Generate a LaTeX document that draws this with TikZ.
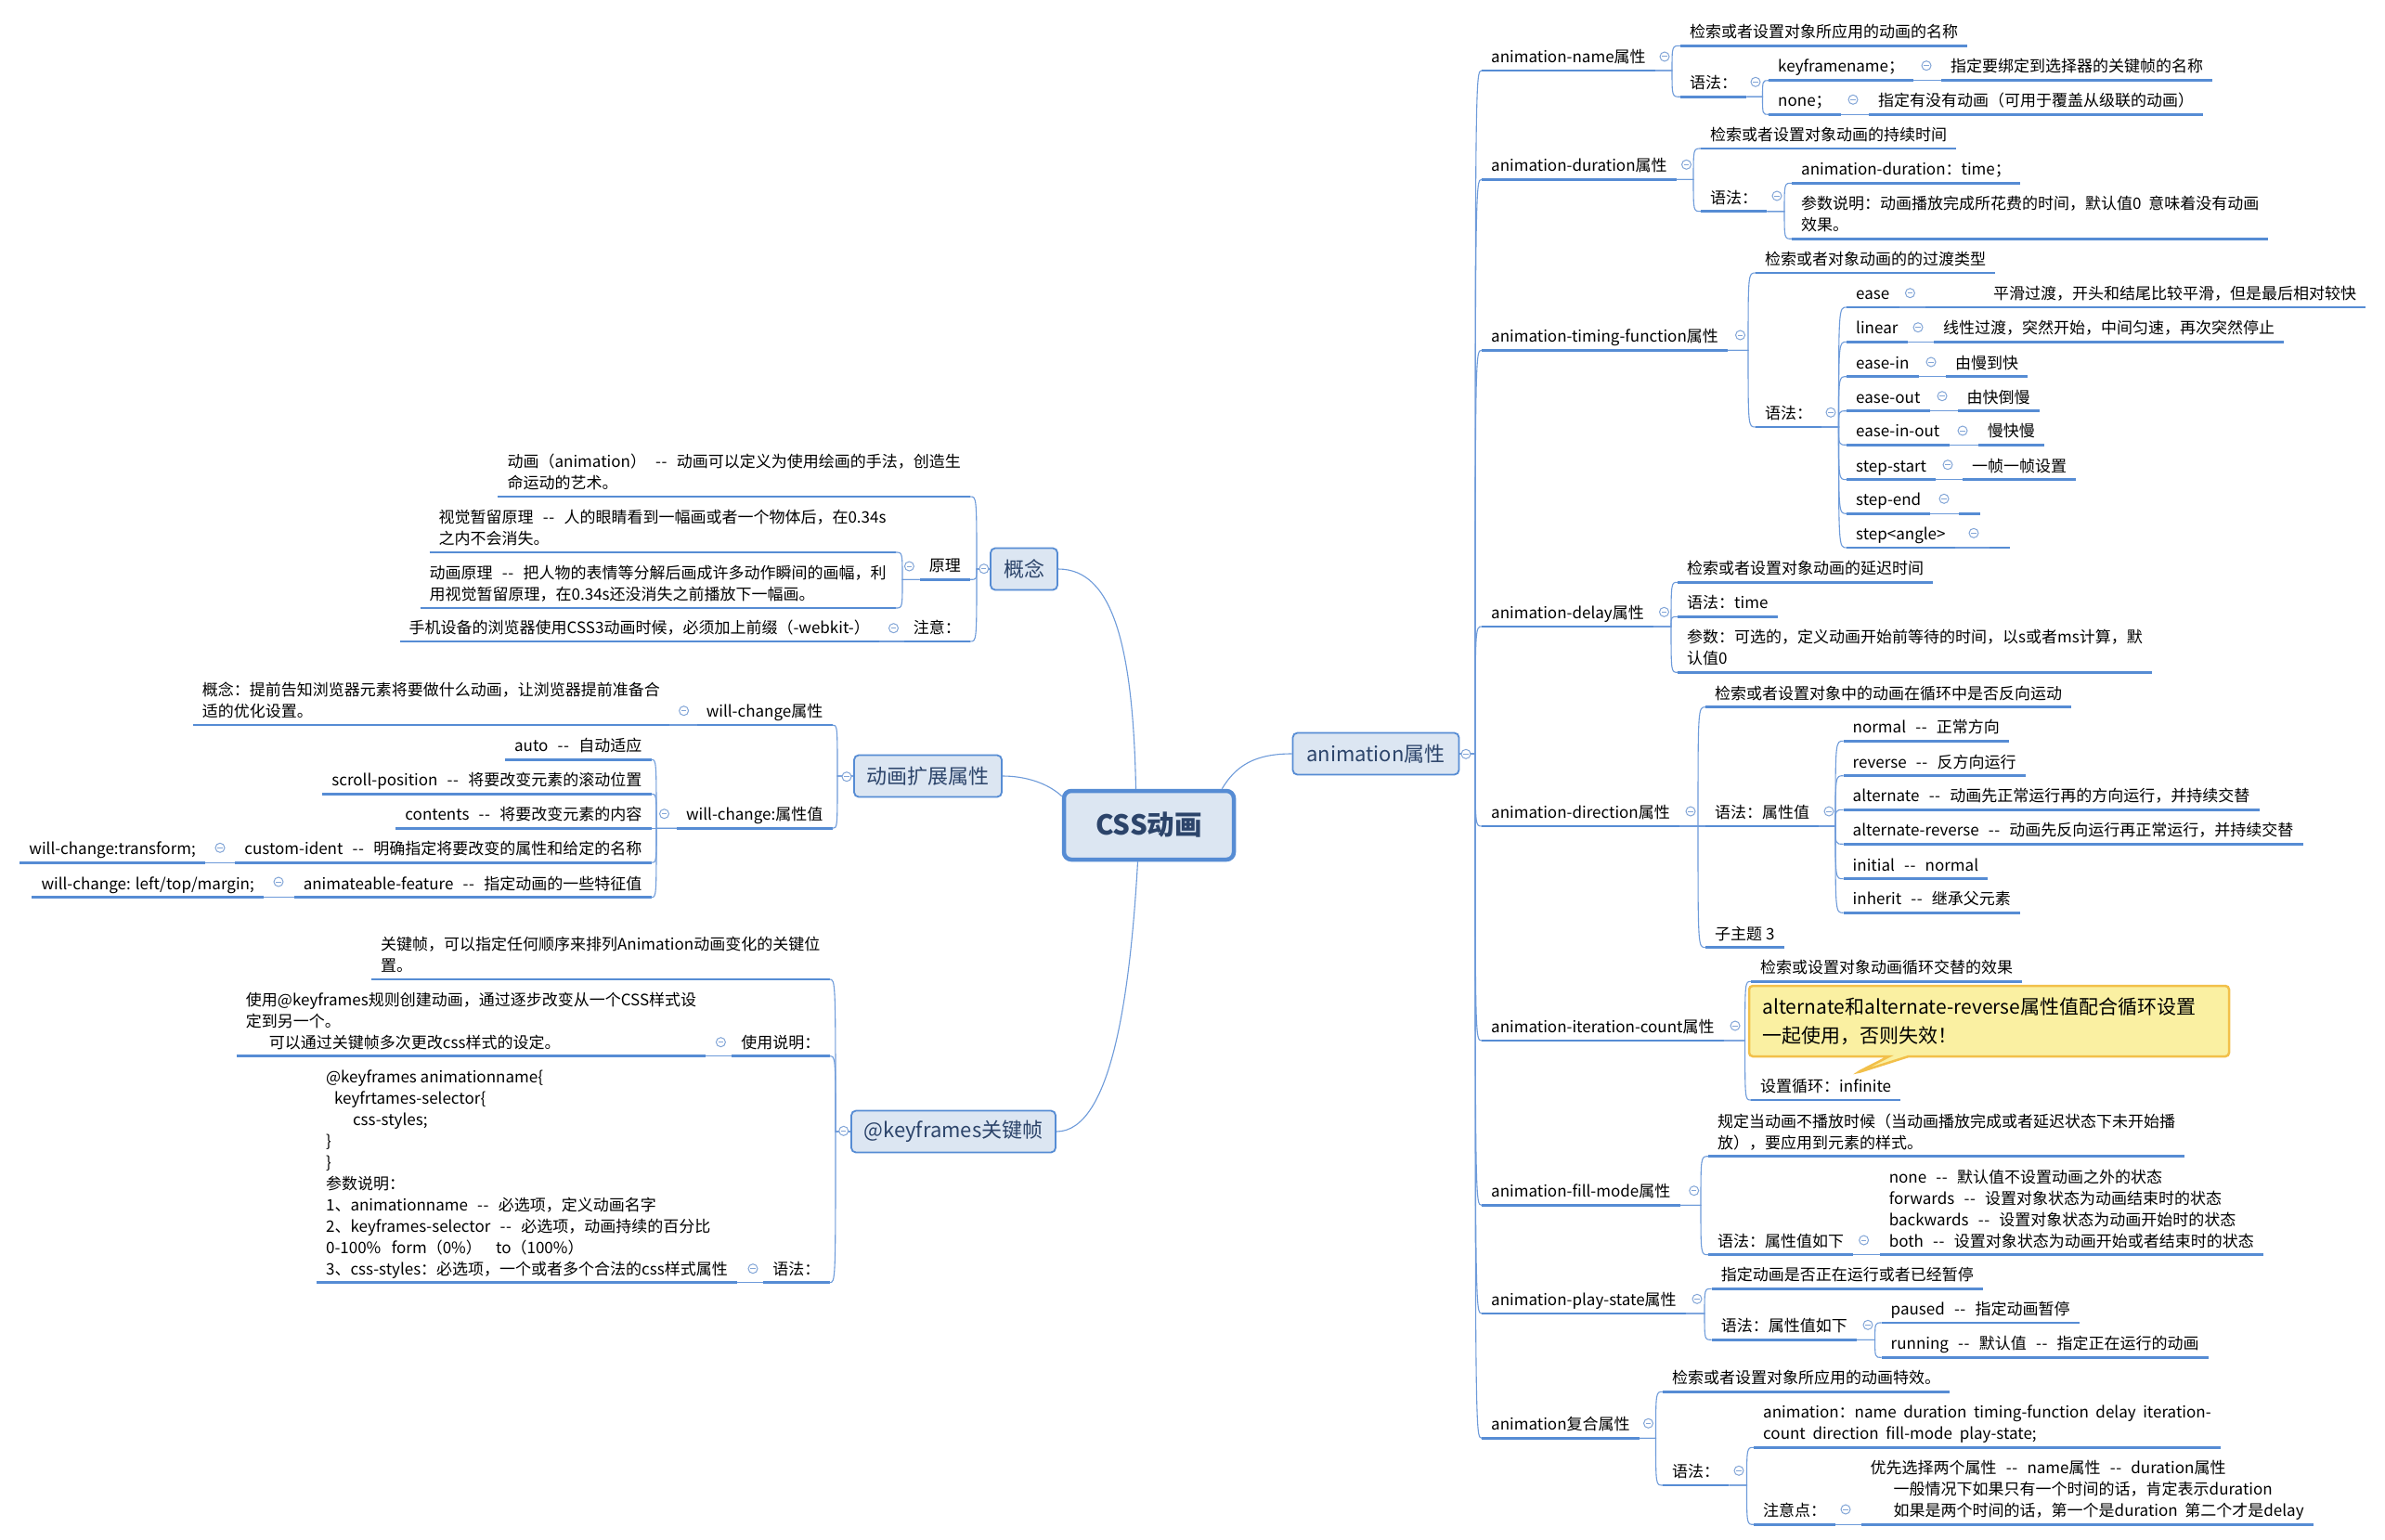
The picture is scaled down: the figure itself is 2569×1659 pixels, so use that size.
\documentclass[tikz,border=0pt]{standalone}
\usepackage{fontspec}
\setmainfont{Noto Sans CJK SC}
\usetikzlibrary{shapes.callouts}
\definecolor{ulblue}{RGB}{86,140,212}
\definecolor{lnblue}{RGB}{110,155,218}
\definecolor{fdblue}{RGB}{130,165,215}
\definecolor{boxfill}{RGB}{220,230,242}
\definecolor{boxtext}{RGB}{44,68,106}
\definecolor{notefill}{RGB}{250,240,162}
\definecolor{noteline}{RGB}{242,192,74}
\def \dsh {\hspace{.6em}-\kern.6pt-\hspace{.6em}}
\def \linkR#1#2#3{\draw[conn] (#2) -- (#1 |- #2) .. controls (#1 |- #3.south west) .. (#3.south west);}
\def \linkL#1#2#3{\draw[conn] (#2) -- (#1 |- #2) .. controls (#1 |- #3.south east) .. (#3.south east);}
\tikzset{
  uline/.style={draw=ulblue, line width=2.8pt},
  topic/.style={font=\fontsize{17}{23}\selectfont, inner xsep=10pt, inner ysep=5.5pt, text depth=3pt, align=left,
    append after command={(\tikzlastnode.south west) edge[uline] (\tikzlastnode.south east)}},
  topicR/.style={topic, anchor=south west},
  topicL/.style={topic, anchor=south east},
  conn/.style={draw=lnblue, line width=1.1pt},
  fold/.style={circle, draw=fdblue, fill=white, line width=1pt, minimum size=10pt, inner sep=0pt,
    path picture={\draw[fdblue, line width=1pt] ([xshift=-2.6pt]path picture bounding box.center) -- ([xshift=2.6pt]path picture bounding box.center);}},
  mainbox/.style={draw=ulblue, fill=boxfill, line width=1.8pt, rounded corners=5pt, text=boxtext,
    font=\fontsize{22}{26}\selectfont, minimum height=45pt, inner sep=0pt},
  rootbox/.style={mainbox, line width=4.5pt, rounded corners=8pt, font=\fontsize{29.5}{34}\selectfont\bfseries,
    minimum width=183pt, minimum height=74pt},
  note/.style={rectangle callout, draw=noteline, fill=notefill, line width=2.5pt, rounded corners=4pt,
    font=\fontsize{21}{30.7}\selectfont, align=left, text width=488pt, inner xsep=14.5pt, minimum height=76pt,
    callout pointer width=21pt},
}
\begin{document}
\begin{tikzpicture}[x=1pt, y=-1pt]
  \path[use as bounding box, fill=white] (0,0) rectangle (2569,1659);

  % Centre topic
  \node[rootbox] (root) at (1237.5,889) {CSS动画};

  % Main topics
  \node[mainbox, minimum width=179pt] (anim) at (1482,812) {animation属性};
  \node[mainbox, minimum width=72pt] (concept) at (1103,613) {概念};
  \node[mainbox, minimum width=159pt] (ext) at (999.5,836) {动画扩展属性};
  \node[mainbox, minimum width=220pt] (kfbox) at (1027,1219) {@keyframes关键帧};

  \draw[conn] ([xshift=-15pt]root.north east) .. controls +(15,-25) and +(-40,0) .. (anim.west);
  \draw[conn] ([xshift=-14pt]root.north) .. controls +(-3,-150) and +(60,0) .. (concept.east);
  \draw[conn] ([yshift=-8pt]root.north west) .. controls +(-15,-14) and +(25,0) .. (ext.east);
  \draw[conn] ([xshift=-12pt]root.south) .. controls +(-8,140) and +(60,0) .. (kfbox.east);

  % ---------------- right: animation属性 ----------------
  \node[topicR] (n1) at (1596,76) {animation-name属性};
  \node[topicR] (n2) at (1596,193.3) {animation-duration属性};
  \node[topicR] (n3) at (1596,377.3) {animation-timing-function属性};
  \node[topicR] (n4) at (1596,675) {animation-delay属性};
  \node[topicR] (n5) at (1596,890) {animation-direction属性};
  \node[topicR] (n6) at (1596,1121) {animation-iteration-count属性};
  \node[topicR] (n7) at (1596,1298.3) {animation-fill-mode属性};
  \node[topicR] (n8) at (1596,1415) {animation-play-state属性};
  \node[topicR] (n9) at (1596,1549.3) {animation复合属性};
  \coordinate (anim-sp) at (1589,0);
  \linkR{anim-sp}{anim.east}{n1}
  \linkR{anim-sp}{anim.east}{n2}
  \linkR{anim-sp}{anim.east}{n3}
  \linkR{anim-sp}{anim.east}{n4}
  \linkR{anim-sp}{anim.east}{n5}
  \linkR{anim-sp}{anim.east}{n6}
  \linkR{anim-sp}{anim.east}{n7}
  \linkR{anim-sp}{anim.east}{n8}
  \linkR{anim-sp}{anim.east}{n9}
  \node[fold] (f-anim) at (1579,812.3) {};

  % animation-name
  \node[topicR] (n1a) at (1810,49.3) {检索或者设置对象所应用的动画的名称};
  \node[topicR] (n1b) at (1810,104.3) {语法：};
  \node[topicR] (n1b1) at (1905,86.7) {keyframename；};
  \node[topicR] (n1b1a) at (2091,86.7) {指定要绑定到选择器的关键帧的名称};
  \node[topicR] (n1b2) at (1905,123.3) {none；};
  \node[topicR] (n1b2a) at (2013,123.3) {指定有没有动画（可用于覆盖从级联的动画）};
  \coordinate (n1-sp) at (1801,0);
  \coordinate (n1b-sp) at (1898.5,0);
  \linkR{n1-sp}{n1.south east}{n1a}
  \linkR{n1-sp}{n1.south east}{n1b}
  \linkR{n1b-sp}{n1b.south east}{n1b1}
  \linkR{n1b-sp}{n1b.south east}{n1b2}
  \draw[conn] (n1b1.south east) -- (n1b1a.south west);
  \draw[conn] (n1b2.south east) -- (n1b2a.south west);
  \node[fold] (f-n1) at (1793,61) {};
  \node[fold] (f-n1b) at (1891,88.3) {};
  \node[fold] (f-n1b1) at (2075,70.7) {};
  \node[fold] (f-n1b2) at (1996,107.3) {};

  % animation-duration
  \node[topicR] (n2a) at (1832,160) {检索或者设置对象动画的持续时间};
  \node[topicR] (n2b) at (1832,227.7) {语法：};
  \node[topicR] (n2b1) at (1930,197.3) {animation-duration：time；};
  \node[topicR] (n2b2) at (1930,257.3) {参数说明：动画播放完成所花费的时间，默认值0\ \ 意味着没有动画\\效果。};
  \coordinate (n2-sp) at (1824,0);
  \coordinate (n2b-sp) at (1922,0);
  \linkR{n2-sp}{n2.south east}{n2a}
  \linkR{n2-sp}{n2.south east}{n2b}
  \linkR{n2b-sp}{n2b.south east}{n2b1}
  \linkR{n2b-sp}{n2b.south east}{n2b2}
  \node[fold] (f-n2) at (1816.5,177.3) {};
  \node[fold] (f-n2b) at (1914,211) {};

  % animation-timing-function
  \node[topicR] (n3a) at (1891,294) {检索或者对象动画的的过渡类型};
  \node[topicR] (n3b) at (1891,460) {语法：};
  \node[topicR] (t1) at (1989,331) {ease};
  \node[topicR] (t1a) at (2074,331) {\hspace*{63pt}平滑过渡，开头和结尾比较平滑，但是最后相对较快};
  \node[topicR] (t2) at (1989,368.3) {linear};
  \node[topicR] (t2a) at (2083,368.3) {线性过渡，突然开始，中间匀速，再次突然停止};
  \node[topicR] (t3) at (1989,405.7) {ease-in};
  \node[topicR] (t3a) at (2096,405.7) {由慢到快};
  \node[topicR] (t4) at (1989,442.7) {ease-out};
  \node[topicR] (t4a) at (2108.5,442.7) {由快倒慢};
  \node[topicR] (t5) at (1989,479.3) {ease-in-out};
  \node[topicR] (t5a) at (2130.6,479.3) {慢快慢};
  \node[topicR] (t6) at (1989,516.7) {step-start};
  \node[topicR] (t6a) at (2114,516.7) {一帧一帧设置};
  \node[topicR] (t7) at (1989,553.3) {step-end};
  \node[topicR, minimum width=22.5pt] (t7a) at (2110,553.3) {};
  \node[topicR] (t8) at (1989,590) {step<angle>};
  \node[topicR, minimum width=22pt] (t8a) at (2143,590) {};
  \coordinate (n3-sp) at (1883,0);
  \coordinate (n3b-sp) at (1980.5,0);
  \linkR{n3-sp}{n3.south east}{n3a}
  \linkR{n3-sp}{n3.south east}{n3b}
  \linkR{n3b-sp}{n3b.south east}{t1}
  \linkR{n3b-sp}{n3b.south east}{t2}
  \linkR{n3b-sp}{n3b.south east}{t3}
  \linkR{n3b-sp}{n3b.south east}{t4}
  \linkR{n3b-sp}{n3b.south east}{t5}
  \linkR{n3b-sp}{n3b.south east}{t6}
  \linkR{n3b-sp}{n3b.south east}{t7}
  \linkR{n3b-sp}{n3b.south east}{t8}
  \draw[conn] (t1.south east) -- (t1a.south west);
  \draw[conn] (t2.south east) -- (t2a.south west);
  \draw[conn] (t3.south east) -- (t3a.south west);
  \draw[conn] (t4.south east) -- (t4a.south west);
  \draw[conn] (t5.south east) -- (t5a.south west);
  \draw[conn] (t6.south east) -- (t6a.south west);
  \draw[conn] (t7.south east) -- (t7a.south west);
  \draw[conn] (t8.south east) -- (t8a.south west);
  \node[fold] (f-n3) at (1874.5,361) {};
  \node[fold] (f-n3b) at (1972,444.3) {};
  \node[fold] (f-t1) at (2057.4,315.7) {};
  \node[fold] (f-t2) at (2066,352.7) {};
  \node[fold] (f-t3) at (2080,390) {};
  \node[fold] (f-t4) at (2092,426.7) {};
  \node[fold] (f-t5) at (2114,464) {};
  \node[fold] (f-t6) at (2098,500.7) {};
  \node[fold] (f-t7) at (2094,537.3) {};
  \node[fold] (f-t8) at (2126,574.3) {};

  % animation-delay
  \node[topicR] (n4a) at (1807,627.3) {检索或者设置对象动画的延迟时间};
  \node[topicR] (n4b) at (1807,664.3) {语法：time};
  \node[topicR] (n4c) at (1807,724.3) {参数：可选的，定义动画开始前等待的时间，以s或者ms计算，默\\认值0};
  \coordinate (n4-sp) at (1800,0);
  \linkR{n4-sp}{n4.south east}{n4a}
  \linkR{n4-sp}{n4.south east}{n4b}
  \linkR{n4-sp}{n4.south east}{n4c}
  \node[fold] (f-n4) at (1792.5,659.3) {};

  % animation-direction
  \node[topicR] (n5a) at (1837,761.7) {检索或者设置对象中的动画在循环中是否反向运动};
  \node[topicR] (n5b) at (1837,890) {语法：属性值};
  \node[topicR] (d1) at (1985.5,798.3) {normal\dsh 正常方向};
  \node[topicR] (d2) at (1985.5,835.7) {reverse\dsh 反方向运行};
  \node[topicR] (d3) at (1985.5,872.3) {alternate\dsh 动画先正常运行再的方向运行，并持续交替};
  \node[topicR] (d4) at (1985.5,909.3) {alternate-reverse\dsh 动画先反向运行再正常运行，并持续交替};
  \node[topicR] (d5) at (1985.5,946.7) {initial\dsh normal};
  \node[topicR] (d6) at (1985.5,983.3) {inherit\dsh 继承父元素};
  \node[topicR] (n5c) at (1837,1020.7) {子主题 3};
  \coordinate (n5-sp) at (1829,0);
  \coordinate (n5b-sp) at (1977,0);
  \linkR{n5-sp}{n5.south east}{n5a}
  \linkR{n5-sp}{n5.south east}{n5b}
  \linkR{n5-sp}{n5.south east}{n5c}
  \linkR{n5b-sp}{n5b.south east}{d1}
  \linkR{n5b-sp}{n5b.south east}{d2}
  \linkR{n5b-sp}{n5b.south east}{d3}
  \linkR{n5b-sp}{n5b.south east}{d4}
  \linkR{n5b-sp}{n5b.south east}{d5}
  \linkR{n5b-sp}{n5b.south east}{d6}
  \node[fold] (f-n5) at (1821,874) {};
  \node[fold] (f-n5b) at (1970,874) {};

  % animation-iteration-count
  \node[topicR] (n6a) at (1886,1057.3) {检索或设置对象动画循环交替的效果};
  \node[topicR] (n6b) at (1886,1185) {设置循环：infinite};
  \coordinate (n6-sp) at (1879.6,0);
  \linkR{n6-sp}{n6.south east}{n6a}
  \linkR{n6-sp}{n6.south east}{n6b}
  \node[note, minimum width=517pt, callout absolute pointer={(2000,1155.7)}] (n6note) at (2142.5,1100)
    {alternate和alternate-reverse属性值配合循环设置\\一起使用，否则失效！};
  \node[fold] (f-n6) at (1869,1105) {};

  % animation-fill-mode
  \node[topicR] (n7a) at (1840,1245.7) {规定当动画不播放时候（当动画播放完成或者延迟状态下未开始播\\放），要应用到元素的样式。};
  \node[topicR] (n7b) at (1840,1351.7) {语法：属性值如下};
  \node[topicR] (n7b1) at (2024.6,1351.7) {none\dsh 默认值不设置动画之外的状态\\forwards\dsh 设置对象状态为动画结束时的状态\\backwards\dsh 设置对象状态为动画开始时的状态\\both\dsh 设置对象状态为动画开始或者结束时的状态};
  \coordinate (n7-sp) at (1832,0);
  \linkR{n7-sp}{n7.south east}{n7a}
  \linkR{n7-sp}{n7.south east}{n7b}
  \draw[conn] (n7b.south east) -- (n7b1.south west);
  \node[fold] (f-n7) at (1824.7,1282.7) {};
  \node[fold] (f-n7b) at (2007.6,1336) {};

  % animation-play-state
  \node[topicR] (n8a) at (1843.6,1388.3) {指定动画是否正在运行或者已经暂停};
  \node[topicR] (n8b) at (1843.6,1443.3) {语法：属性值如下};
  \node[topicR] (p1) at (2026.5,1425) {paused\dsh 指定动画暂停};
  \node[topicR] (p2) at (2026.5,1462.3) {running\dsh 默认值\dsh 指定正在运行的动画};
  \coordinate (n8-sp) at (1836,0);
  \coordinate (n8b-sp) at (2019.6,0);
  \linkR{n8-sp}{n8.south east}{n8a}
  \linkR{n8-sp}{n8.south east}{n8b}
  \linkR{n8b-sp}{n8b.south east}{p1}
  \linkR{n8b-sp}{n8b.south east}{p2}
  \node[fold] (f-n8) at (1828,1399.3) {};
  \node[fold] (f-n8b) at (2012,1427.3) {};

  % animation复合属性
  \node[topicR] (n9a) at (1791,1499.3) {检索或者设置对象所应用的动画特效。};
  \node[topicR] (n9b) at (1791,1600) {语法：};
  \node[topicR] (c1) at (1889,1559.3) {animation：name\ \ duration\ \ timing-function\ \ delay\ \ iteration-\\count\ \ direction\ \ fill-mode\ \ play-state;};
  \node[topicR] (c2) at (1889,1642.3) {注意点：};
  \node[topicR] (c2a) at (2004.5,1642.3) {优先选择两个属性\dsh name属性\dsh duration属性\\\hspace*{25pt}一般情况下如果只有一个时间的话，肯定表示duration\\\hspace*{25pt}如果是两个时间的话，第一个是duration\ \ 第二个才是delay};
  \coordinate (n9-sp) at (1783.5,0);
  \coordinate (n9b-sp) at (1881.5,0);
  \linkR{n9-sp}{n9.south east}{n9a}
  \linkR{n9-sp}{n9.south east}{n9b}
  \linkR{n9b-sp}{n9b.south east}{c1}
  \linkR{n9b-sp}{n9b.south east}{c2}
  \draw[conn] (c2.south east) -- (c2a.south west);
  \node[fold] (f-n9) at (1775.5,1533.3) {};
  \node[fold] (f-n9b) at (1873,1584.3) {};
  \node[fold] (f-c2) at (1988,1626) {};

  % ---------------- left: 概念 ----------------
  \node[topicL] (k1) at (1045,535) {动画（animation）\dsh 动画可以定义为使用绘画的手法，创造生\\命运动的艺术。};
  \node[topicL] (k2) at (1045,624.3) {原理};
  \node[topicL] (k2a) at (964.7,595) {视觉暂留原理\dsh 人的眼睛看到一幅画或者一个物体后，在0.34s\\之内不会消失。};
  \node[topicL] (k2b) at (964.7,655) {动画原理\dsh 把人物的表情等分解后画成许多动作瞬间的画幅，利\\用视觉暂留原理，在0.34s还没消失之前播放下一幅画。};
  \node[topicL] (k3) at (1045,691) {注意：};
  \node[topicL] (k3a) at (947,691) {手机设备的浏览器使用CSS3动画时候，必须加上前缀（-webkit-）};
  \coordinate (concept-sp) at (1052,0);
  \coordinate (k2-sp) at (972,0);
  \linkL{concept-sp}{concept.west}{k1}
  \linkL{concept-sp}{concept.west}{k2}
  \linkL{concept-sp}{concept.west}{k3}
  \linkL{k2-sp}{k2.south west}{k2a}
  \linkL{k2-sp}{k2.south west}{k2b}
  \draw[conn] (k3.south west) -- (k3a.south east);
  \node[fold] (f-concept) at (1059.8,612.7) {};
  \node[fold] (f-k2) at (979.4,610) {};
  \node[fold] (f-k3) at (962.5,676.7) {};

  % ---------------- left: 动画扩展属性 ----------------
  \node[topicL] (e1) at (896.5,781) {will-change属性};
  \node[topicL] (e1a) at (721,781) {概念：提前告知浏览器元素将要做什么动画，让浏览器提前准备合\\适的优化设置。};
  \node[topicL] (e2) at (896.5,892.3) {will-change:属性值};
  \node[topicL] (e2a) at (701.5,818.3) {auto\dsh 自动适应};
  \node[topicL] (e2b) at (701.5,855.3) {scroll-position\dsh 将要改变元素的滚动位置};
  \node[topicL] (e2c) at (701.5,892.3) {contents\dsh 将要改变元素的内容};
  \node[topicL] (e2d) at (701.5,929.3) {custom-ident\dsh 明确指定将要改变的属性和给定的名称};
  \node[topicL] (e2d1) at (221,929.3) {will-change:transform;};
  \node[topicL] (e2e) at (701.5,966.7) {animateable-feature\dsh 指定动画的一些特征值};
  \node[topicL] (e2e1) at (284,966.7) {will-change: left/top/margin;};
  \coordinate (ext-sp) at (902,0);
  \coordinate (e2-sp) at (707,0);
  \linkL{ext-sp}{ext.west}{e1}
  \linkL{ext-sp}{ext.west}{e2}
  \draw[conn] (e1.south west) -- (e1a.south east);
  \linkL{e2-sp}{e2.south west}{e2a}
  \linkL{e2-sp}{e2.south west}{e2b}
  \linkL{e2-sp}{e2.south west}{e2c}
  \linkL{e2-sp}{e2.south west}{e2d}
  \linkL{e2-sp}{e2.south west}{e2e}
  \draw[conn] (e2d.south west) -- (e2d1.south east);
  \draw[conn] (e2e.south west) -- (e2e1.south east);
  \node[fold] (f-ext) at (912,836.7) {};
  \node[fold] (f-e1) at (736.6,765.7) {};
  \node[fold] (f-e2) at (715.5,876.7) {};
  \node[fold] (f-e2d) at (237,913.3) {};
  \node[fold] (f-e2e) at (300,950) {};

  % ---------------- left: @keyframes关键帧 ----------------
  \node[topicL] (kf1) at (893.5,1055) {关键帧，可以指定任何顺序来排列Animation动画变化的关键位\\置。};
  \node[topicL] (kf2) at (893.5,1137.7) {使用说明：};
  \node[topicL] (kf2a) at (760.4,1137.7) {使用@keyframes规则创建动画，通过逐步改变从一个CSS样式设\\定到另一个。\\\hspace*{25pt}可以通过关键帧多次更改css样式的设定。};
  \node[topicL] (kf3) at (893.5,1381.7) {语法：};
  \node[topicL] (kf3a) at (794,1381.7) {@keyframes animationname\{\\\hspace*{9pt}keyfrtames-selector\{\\\hspace*{29pt}css-styles;\\\}\\\}\\参数说明：\\1、animationname\dsh 必选项，定义动画名字\\2、keyframes-selector\dsh 必选项，动画持续的百分比\\0-100\%\ \ \ form（0\%）\ \ \ \ to（100\%）\\3、css-styles：必选项，一个或者多个合法的css样式属性};
  \coordinate (kf-sp) at (900,0);
  \linkL{kf-sp}{kfbox.west}{kf1}
  \linkL{kf-sp}{kfbox.west}{kf2}
  \linkL{kf-sp}{kfbox.west}{kf3}
  \draw[conn] (kf2.south west) -- (kf2a.south east);
  \draw[conn] (kf3.south west) -- (kf3a.south east);
  \node[fold] (f-kfbox) at (908.7,1218.3) {};
  \node[fold] (f-kf2) at (776.4,1122.7) {};
  \node[fold] (f-kf3) at (811,1366.7) {};
\end{tikzpicture}
\end{document}
